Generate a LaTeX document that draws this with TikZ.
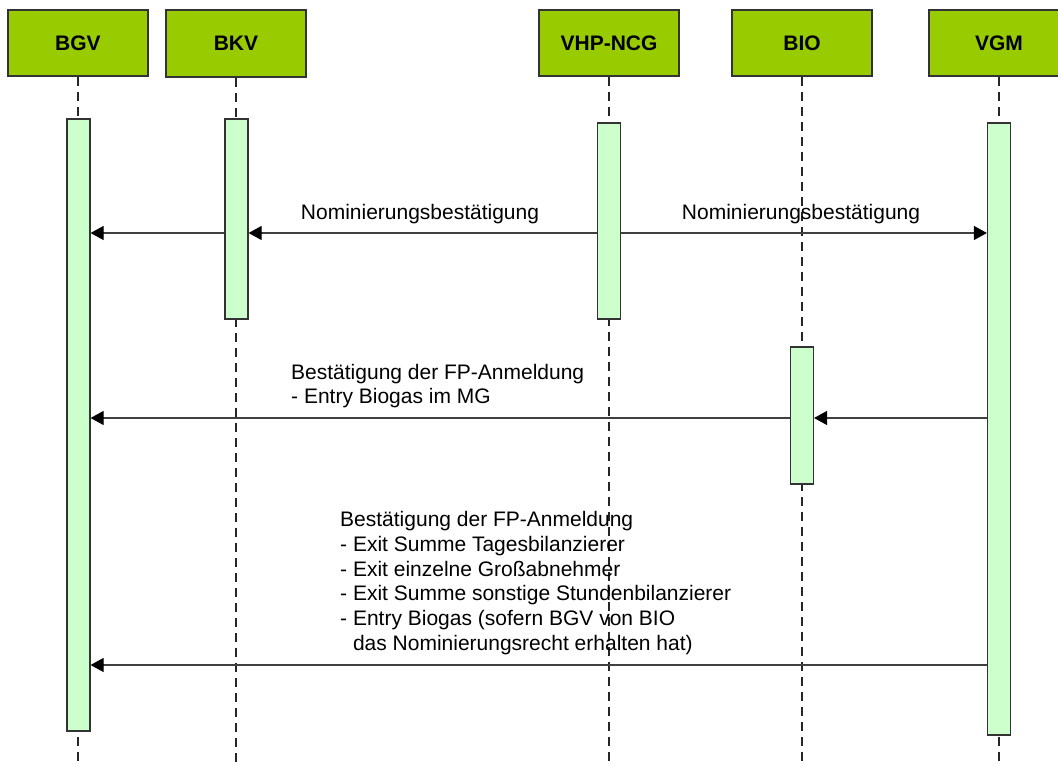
\documentclass[tikz,border=0pt]{standalone}
\usepackage{fontspec}
\setmainfont{Liberation Sans}
\usetikzlibrary{arrows.meta}

\definecolor{actorgreen}{HTML}{99CC00}
\definecolor{barmint}{HTML}{CCFFCC}

\tikzset{
    actor/.style={draw=black!80, line width=1.2pt, fill=actorgreen,
        minimum width=140pt, minimum height=66pt, inner sep=0pt,
        font=\fontsize{21}{25}\selectfont\bfseries},
    bar/.style={draw=black!80, line width=1.2pt, fill=barmint,
        minimum width=23pt, inner sep=0pt},
    lifeline/.style={draw=black!85, line width=1.2pt, dash pattern=on 9pt off 6pt},
    msg/.style={draw=black!75, line width=1.2pt,
        -{Triangle[length=13pt,width=14pt,color=black,fill=black]}},
    msgtext/.style={inner sep=0pt, font=\fontsize{21}{24.8}\selectfont}
}

\begin{document}
\begin{tikzpicture}[x=1pt,y=-1pt]
        \useasboundingbox (0,0) rectangle (1058,767);
        \clip (0,0) rectangle (1058,767);

        % Kopfzeile
        \node[actor] (bgv) at (78,43) {BGV};
        \node[actor, minimum height=67pt] (bkv) at (236,43.5) {BKV};
        \node[actor] (vhp) at (609,43) {VHP-NCG};
        \node[actor] (bio) at (802,43) {BIO};
        \node[actor] (vgm) at (999,43) {VGM};

        % Lebenslinien
        \draw[lifeline] (bgv.south) -- (bgv.south |- 0,767);
        \draw[lifeline] (bkv.south) -- (bkv.south |- 0,767);
        \draw[lifeline] (vhp.south) -- (vhp.south |- 0,767);
        \draw[lifeline] (bio.south) -- (bio.south |- 0,767);
        \draw[lifeline] (vgm.south) -- (vgm.south |- 0,767);

        % Aktivierungen
        \node[bar, minimum height=612pt] (bgvbar) at (78.5,425) {};
        \node[bar, minimum height=200pt] (bkvbar) at (236.5,219) {};
        \node[bar, minimum height=196pt] (vhpbar) at (609,221) {};
        \node[bar, minimum height=137pt] (biobar) at (802,415.5) {};
        \node[bar, minimum height=612pt] (vgmbar) at (999,429) {};

        % Nachrichten
        \coordinate (m1) at (0,233);
        \coordinate (m2) at (0,418);
        \coordinate (m3) at (0,665);

        \draw[msg] (vhpbar.west |- m1) -- (bkvbar.east |- m1);
        \draw[msg] (bkvbar.west |- m1) -- (bgvbar.east |- m1);
        \draw[msg] (vhpbar.east |- m1) -- (vgmbar.west |- m1);
        \draw[msg] (vgmbar.west |- m2) -- (biobar.east |- m2);
        \draw[msg] (biobar.west |- m2) -- (bgvbar.east |- m2);
        \draw[msg] (vgmbar.west |- m3) -- (bgvbar.east |- m3);

        \node[msgtext] (t1) at (420,214) {Nominierungsbestätigung};
        \node[msgtext] (t2) at (801,214) {Nominierungsbestätigung};
        \node[msgtext, anchor=west, align=left] (t3) at (291,386)
            {Bestätigung der FP-Anmeldung\\- Entry Biogas im MG};
        \node[msgtext, anchor=west, align=left] (t4) at (340,583)
            {Bestätigung der FP-Anmeldung\\
             - Exit Summe Tagesbilanzierer\\
             - Exit einzelne Großabnehmer\\
             - Exit Summe sonstige Stundenbilanzierer\\
             - Entry Biogas (sofern BGV von BIO\\
             \hphantom{- }das Nominierungsrecht erhalten hat)};
    \end{tikzpicture}
\end{document}
